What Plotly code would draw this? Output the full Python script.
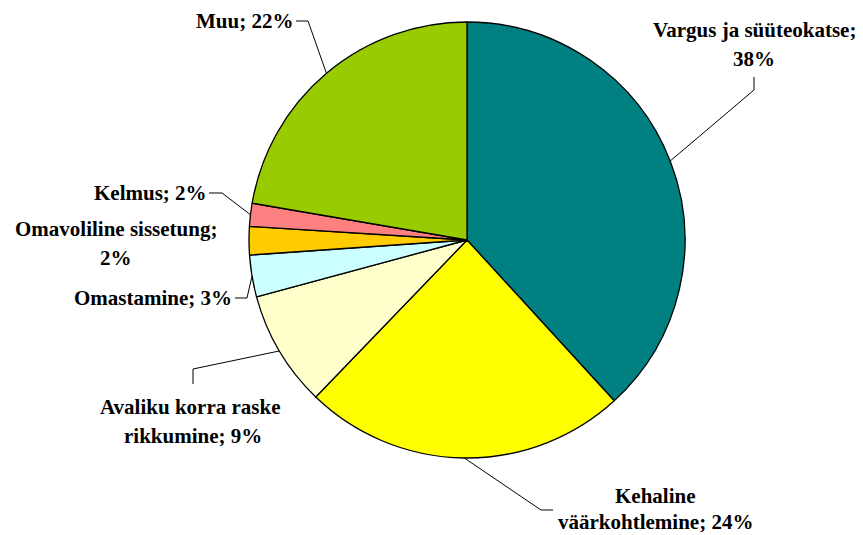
import math
import plotly.graph_objects as go

categories = ["Vargus ja süüteokatse", "Kehaline väärkohtlemine", "Avaliku korra raske rikkumine",
              "Omastamine", "Omavoliline sissetung", "Kelmus", "Muu"]
values = [38.2, 24.0, 8.6, 3.1, 2.1, 1.7, 22.3]
colors = ["#008080", "#FFFF00", "#FFFFCC", "#CCFFFF", "#FFCC00", "#FF8080", "#99CC00"]

# page body has an 8px margin; work in window pixels and offset
OFF = 8
W, H = 863 - OFF, 535 - OFF
CX, CY, R = 467, 240, 218

def px(x, y):
    return (x - OFF) / W, 1 - (y - OFF) / H

d0 = px(CX - R, CY + R)
d1 = px(CX + R, CY - R)
fig = go.Figure(go.Pie(
    labels=categories, values=values, sort=False, direction="clockwise", rotation=0,
    marker=dict(colors=colors, line=dict(color="black", width=1.3)),
    textinfo="none", hoverinfo="label+percent", showlegend=False,
    domain=dict(x=[d0[0], d1[0]], y=[d0[1], d1[1]]),
))

# label lines: (text, x, y, xanchor) in window pixels
label_lines = [
    ("Vargus ja süüteokatse;", 754, 30, "center"),
    ("38%", 754, 59, "center"),
    ("Kehaline", 655, 496, "center"),
    ("väärkohtlemine; 24%", 655, 522, "center"),
    ("Avaliku korra raske", 190, 407, "center"),
    ("rikkumine; 9%", 193, 436, "center"),
    ("Omastamine; 3%", 233, 298, "right"),
    ("Omavoliline sissetung;", 116, 229, "center"),
    ("2%", 116, 258, "center"),
    ("Kelmus; 2%", 208, 193, "right"),
    ("Muu; 22%", 294, 21, "right"),
]

annotations = []
for t, x, y, xa in label_lines:
    ax, ay = px(x, y)
    annotations.append(dict(text="<b>" + t + "</b>", x=ax, y=ay, xref="paper", yref="paper",
                            xanchor=xa, yanchor="middle", showarrow=False, borderpad=0,
                            font=dict(family="Liberation Serif", size=21, color="black")))

# leader line elbows / ends (window pixels), start computed from slice mid-angles
leaders = {
    0: [(754, 90), (754, 77)],
    1: [(541, 510), (553, 510)],
    2: [(193, 369), (193, 384)],
    3: [(247, 298), (235, 298)],
    5: [(222, 193), (209, 193)],
    6: [(308, 21), (296, 21)],
}
total = sum(values)
cum = 0
mids = []
for v in values:
    mids.append((cum + v / 2) / total * 2 * math.pi)
    cum += v

shapes = []
for i, pts in leaders.items():
    a = mids[i]
    sx, sy = CX + R * math.sin(a), CY - R * math.cos(a)
    allp = [(sx, sy)] + pts
    path = "M " + " L ".join(f"{px(x, y)[0]:.5f},{px(x, y)[1]:.5f}" for x, y in allp)
    shapes.append(dict(type="path", path=path, xref="paper", yref="paper",
                       line=dict(color="black", width=1)))

fig.update_layout(width=W, height=H, margin=dict(l=0, r=0, t=0, b=0),
                  paper_bgcolor="white", plot_bgcolor="white",
                  annotations=annotations, shapes=shapes)
fig.write_html("out.html")
